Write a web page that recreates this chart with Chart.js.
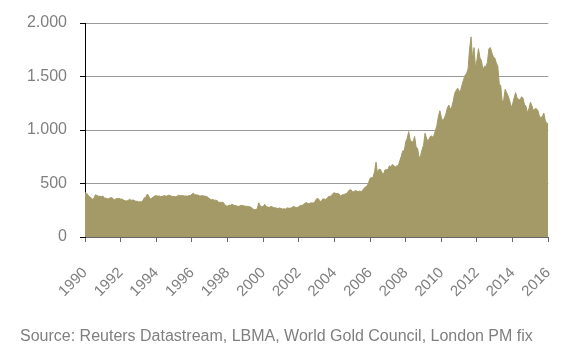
<!DOCTYPE html>
<html>
<head>
<meta charset="utf-8">
<script src="https://cdn.jsdelivr.net/npm/chart.js@4"></script>
<style>
  body { margin: 0; background: #fff; }
  #wrap { position: relative; width: 583px; height: 362px; }
  #source {
    position: absolute; left: 20px; top: 327px;
    font: 16px "Liberation Sans", Arial, sans-serif; color: #7f7f7f; white-space: nowrap;
  }
</style>
</head>
<body>
<div id="wrap">
  <canvas id="goldChart" width="583" height="362"></canvas>
  <div id="source">Source: Reuters Datastream, LBMA, World Gold Council, London PM fix</div>
</div>
<script>
// gold price, USD/oz, one value per month (Jan..Dec)
const firstYear = 1990
const lastYear = 2016
const prices1990s = [
  415, 410, 393, 374, 369, 352, 362, 395, 389, 381, 381, 378,
  383, 364, 363, 358, 357, 367, 368, 356, 349, 359, 360, 361,
  354, 354, 345, 338, 337, 341, 353, 343, 345, 344, 335, 334,
  329, 329, 330, 342, 367, 372, 402, 379, 355, 364, 374, 383,
  387, 382, 384, 377, 381, 385, 385, 380, 391, 389, 384, 379,
  379, 377, 382, 391, 385, 387, 386, 383, 383, 383, 386, 387,
  400, 410, 396, 393, 392, 385, 383, 387, 383, 381, 378, 369,
  355, 347, 352, 344, 344, 341, 324, 324, 323, 325, 306, 289,
  289, 297, 296, 308, 299, 292, 293, 284, 289, 296, 294, 291,
  287, 287, 286, 282, 277, 262, 256, 257, 264, 320, 293, 283
]
const prices2000s = [
  284, 305, 286, 280, 275, 285, 282, 274, 273, 270, 266, 272,
  266, 262, 263, 261, 272, 270, 268, 273, 283, 283, 276, 276,
  282, 296, 294, 303, 314, 322, 314, 310, 319, 317, 319, 333,
  357, 359, 341, 328, 355, 356, 351, 360, 379, 379, 389, 407,
  414, 405, 406, 404, 384, 392, 398, 400, 406, 420, 439, 442,
  425, 423, 434, 429, 422, 431, 424, 437, 456, 470, 476, 510,
  549, 555, 557, 610, 700, 596, 633, 632, 598, 586, 627, 629,
  631, 665, 655, 679, 666, 655, 665, 665, 712, 754, 806, 803,
  889, 922, 985, 909, 888, 890, 939, 839, 829, 740, 760, 816,
  858, 970, 924, 890, 928, 946, 934, 949, 996, 1043, 1127, 1180
]
const prices2010s = [
  1118, 1080, 1113, 1148, 1205, 1233, 1193, 1215, 1271, 1343, 1370, 1391,
  1360, 1374, 1424, 1474, 1512, 1529, 1573, 1756, 1870, 1666, 1770, 1580,
  1656, 1760, 1673, 1650, 1560, 1596, 1594, 1630, 1760, 1770, 1722, 1685,
  1671, 1628, 1593, 1430, 1414, 1260, 1286, 1380, 1349, 1316, 1276, 1210,
  1244, 1300, 1350, 1299, 1287, 1279, 1311, 1296, 1239, 1222, 1160, 1201,
  1260, 1227, 1179, 1198, 1199, 1182, 1131, 1117, 1125, 1159, 1086, 1060,
  1062
]

const prices = [...prices1990s, ...prices2000s, ...prices2010s]
const points = prices.map((p, i) => ({ x: firstYear + i / 12, y: p }))

const fmtThousands = v => String(v).replace(/\B(?=(\d{3})+(?!\d))/g, '.')

const data = {
  datasets: [{
    data: points,
    fill: 'origin',
    backgroundColor: '#a39a67',
    borderColor: '#a39a67',
    borderWidth: 1,
    pointRadius: 0,
    tension: 0
  }]
}

const options = {
  responsive: false,
  animation: false,
  layout: { padding: { top: 23, right: 29, left: 0, bottom: 0 } },
  plugins: { legend: { display: false }, tooltip: { enabled: false } },
  scales: {
    x: {
      type: 'linear',
      min: firstYear,
      max: lastYear,
      afterFit: scale => { scale.height = 125 },
      border: { color: '#666' },
      grid: { drawOnChartArea: false, tickLength: 5, tickColor: '#666' },
      ticks: {
        stepSize: 2,
        minRotation: 45,
        maxRotation: 45,
        padding: 22,
        color: '#808080',
        font: { family: '"Liberation Sans", Arial, sans-serif', size: 15 },
        callback: v => String(v)
      }
    },
    y: {
      min: 0,
      max: 2000,
      afterFit: scale => { scale.width = 85 },
      border: { color: '#000' },
      grid: { color: '#999', borderDash: [3, 2], tickLength: 5, tickColor: '#000', tickBorderDash: [] },
      ticks: {
        stepSize: 500,
        padding: 13,
        color: '#808080',
        font: { family: '"Liberation Sans", Arial, sans-serif', size: 16 },
        callback: v => fmtThousands(v)
      }
    }
  }
}

new Chart('goldChart', { type: 'line', data, options })
</script>
</body>
</html>
